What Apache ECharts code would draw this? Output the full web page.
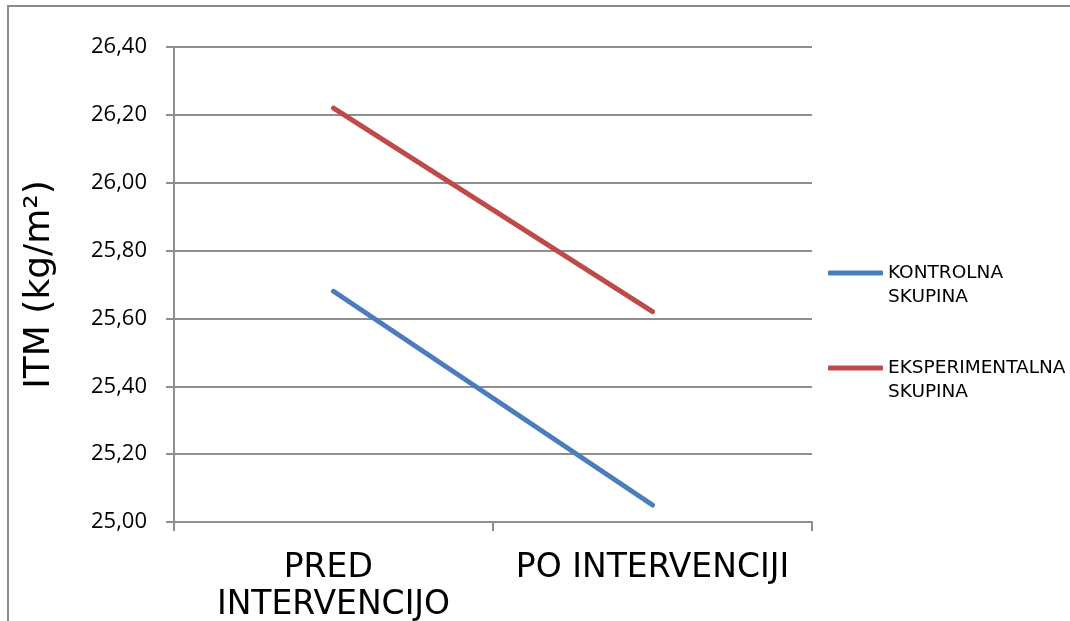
<!DOCTYPE html>
<html>
<head>
<meta charset="utf-8">
<script src="https://cdn.jsdelivr.net/npm/echarts@6/dist/echarts.min.js"></script>
<style>
  html, body { margin: 0; padding: 0; background: #fff; }
  #chart { width: 1070px; height: 621px; }
</style>
</head>
<body>
<div id="chart"></div>
<script>
// Body-mass index (ITM) before and after the intervention
const categories = ['PRED INTERVENCIJO', 'PO INTERVENCIJI'];
const seriesNames = ['KONTROLNA SKUPINA', 'EKSPERIMENTALNA SKUPINA'];
const kontrolna = [25.68, 25.05];
const eksperimentalna = [26.22, 25.62];
const yMin = 25.0, yMax = 26.4, yStep = 0.2;

const axisGray = '#8e8e8e';
const chart = echarts.init(document.getElementById('chart'));

chart.setOption({
  animation: false,
  backgroundColor: '#fff',
  graphic: [{
    type: 'rect',
    shape: { x: 8, y: 6, width: 1200, height: 800 },
    style: { fill: 'none', stroke: '#8c8c8c', lineWidth: 2 },
    silent: true
  }],
  grid: { left: 174, right: 258, top: 47, bottom: 99, outerBoundsMode: 'none', containLabel: false },
  legend: {
    orient: 'vertical',
    left: 828,
    top: 237,
    padding: 0,
    itemGap: 23,
    itemWidth: 55,
    itemHeight: 5,
    icon: 'roundRect',
    data: seriesNames,
    // keep the swatch level with the first word of the name
    formatter: name => '\n' + name.replace(' ', '\n'),
    textStyle: {
      fontFamily: 'DejaVu Sans',
      fontSize: 18.5,
      lineHeight: 24,
      color: '#000'
    }
  },
  xAxis: {
    type: 'category',
    data: categories,
    boundaryGap: true,
    axisLine: { lineStyle: { color: axisGray, width: 2 } },
    axisTick: { show: true, length: 9, lineStyle: { color: axisGray, width: 2 } },
    axisLabel: {
      margin: 28,
      verticalAlign: 'top',
      fontFamily: 'DejaVu Sans',
      fontSize: 33,
      lineHeight: 37,
      color: '#000',
      width: 305,
      overflow: 'break',
      interval: 0
    }
  },
  yAxis: {
    type: 'value',
    min: yMin,
    max: yMax,
    interval: yStep,
    name: 'ITM (kg/m²)',
    nameLocation: 'middle',
    nameGap: 116,
    nameTextStyle: { fontFamily: 'DejaVu Sans', fontSize: 36, color: '#000' },
    axisLine: { show: true, lineStyle: { color: axisGray, width: 2 } },
    axisTick: { show: true, length: 8, lineStyle: { color: axisGray, width: 2 } },
    splitLine: { lineStyle: { color: axisGray, width: 2 } },
    axisLabel: {
      margin: 27,
      fontFamily: 'Open Sans',
      fontSize: 22,
      color: '#000',
      formatter: v => v.toFixed(2).replace('.', ',')
    }
  },
  series: [
    {
      name: seriesNames[0],
      type: 'line',
      data: kontrolna,
      showSymbol: false,
      symbol: 'none',
      itemStyle: { color: '#4A7EBB' },
      lineStyle: { color: '#4A7EBB', width: 5, cap: 'round' }
    },
    {
      name: seriesNames[1],
      type: 'line',
      data: eksperimentalna,
      showSymbol: false,
      symbol: 'none',
      itemStyle: { color: '#BE4B48' },
      lineStyle: { color: '#BE4B48', width: 5, cap: 'round' }
    }
  ]
});
</script>
</body>
</html>
